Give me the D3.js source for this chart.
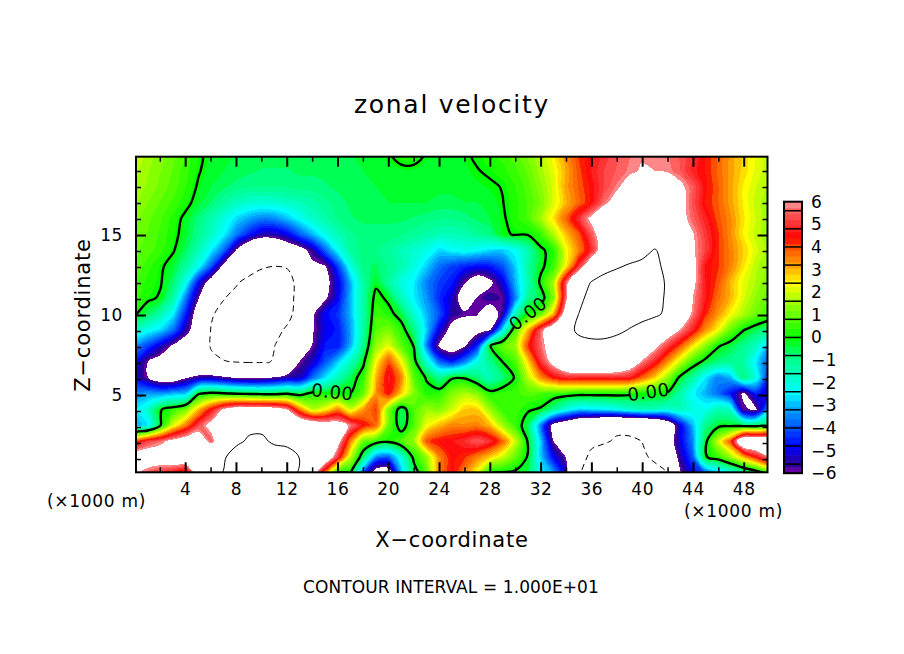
<!DOCTYPE html>
<html>
<head>
<meta charset="utf-8">
<style>
  html, body { margin: 0; padding: 0; background: #fff; }
  text { font-family: "DejaVu Sans", sans-serif; fill: #000; }
  .axis path, .axis line { stroke: #000; }
  .axis text { font-size: 17px; font-family: "DejaVu Sans", sans-serif; letter-spacing: 0.6px; }
</style>
<script src="https://cdn.jsdelivr.net/npm/d3@7"></script>
</head>
<body>
<svg id="chart" width="904" height="654"></svg>
<script>
// tick labels and contour settings
var xMajorTicks = [4, 8, 12, 16, 20, 24, 28, 32, 36, 40, 44, 48];
var xMinorTicks = [2, 6, 10, 14, 18, 22, 26, 30, 34, 38, 42, 46];
var zMajorTicks = [5, 10, 15];
var zMinorTicks = [1, 2, 3, 4, 6, 7, 8, 9, 11, 12, 13, 14, 16, 17, 18, 19];
var barTicks = [6, 5, 4, 3, 2, 1, 0, -1, -2, -3, -4, -5, -6];
var colourValues = [-6, -5.6, -4.8, -4, -3.2, -2.4, -1.6, -0.8, 0, 0.8, 1.6, 2.4, 3.2, 4, 4.4, 5.6, 6];
var colourNames = ["#7b00a5", "#2a0096", "#0000ff", "#0050ff", "#00a0ff", "#00ffff", "#00ffc0", "#00ff80",
  "#00ff00", "#50ff00", "#a0ff00", "#ffff00", "#ffa000", "#ff5000", "#ff0000", "#ff6060", "#ff9a9a"];

// zonal velocity, one list per height (top of plot first)
var z20 = [2.0,1.6,1.3,1.0,0.6,0.1,-0.2,-0.3,-0.4,-0.4,
  -0.5,-0.5,-0.5,-0.5,-0.5,-0.5,-0.4,-0.4,-0.4,-0.3,
  -0.1,0.3,0.3,-0.1,-0.2,-0.2,-0.1,0.1,0.3,0.5,
  0.8,1.2,1.7,2.4,3.3,4.1,4.6,5.0,5.4,5.7,
  5.9,5.9,5.8,5.4,5.0,4.4,3.8,3.2,2.7,2.2,1.8];
var z19 = [1.8,1.5,1.2,0.9,0.5,0.05,-0.3,-0.4,-0.5,-0.6,
  -0.7,-0.7,-0.7,-0.6,-0.6,-0.6,-0.5,-0.5,-0.4,-0.3,
  -0.2,-0.2,-0.2,-0.2,-0.2,-0.2,-0.2,-0.03,0.1,0.3,
  0.6,1.0,1.6,2.2,3.1,4.0,4.7,5.2,5.5,5.8,
  6.1,6.0,5.9,5.5,4.8,4.4,3.8,3.2,2.7,2.2,1.8];
var z18 = [1.7,1.4,1.1,0.8,0.4,-0.1,-0.4,-0.6,-0.8,-0.9,
  -0.9,-0.9,-0.9,-0.8,-0.8,-0.7,-0.6,-0.5,-0.5,-0.4,
  -0.3,-0.3,-0.3,-0.3,-0.3,-0.3,-0.3,-0.2,-0.1,0.03,
  0.4,0.8,1.4,2.1,3.2,3.9,4.5,5.2,5.8,6.6,
  7.2,7.2,7.0,6.3,5.5,4.5,3.9,3.2,2.5,2.0,1.7];
var z17 = [1.5,1.2,0.9,0.6,0.2,-0.3,-0.7,-1.2,-1.6,-1.8,
  -1.9,-1.8,-1.7,-1.5,-1.3,-1.0,-0.8,-0.6,-0.5,-0.5,
  -0.4,-0.4,-0.4,-0.4,-0.5,-0.5,-0.4,-0.4,-0.3,-0.02,
  0.3,0.7,1.2,2.1,3.0,3.8,4.5,5.7,6.6,7.0,
  7.5,7.5,7.3,6.6,5.4,4.4,3.9,3.2,2.5,1.9,1.5];
var z16 = [1.3,1.0,0.7,0.3,-0.2,-0.8,-1.4,-2.0,-2.7,-3.2,
  -3.5,-3.4,-2.9,-2.3,-1.7,-1.3,-0.9,-0.7,-0.6,-0.6,
  -0.6,-0.6,-0.7,-0.8,-0.9,-0.9,-0.8,-0.6,-0.4,-0.1,
  0.3,0.7,1.6,2.6,3.8,5.0,6.3,7.5,8.5,8.5,
  8.7,8.7,8.5,6.5,5.6,4.8,4.0,3.4,2.6,2.0,1.5];
var z15 = [1.1,0.9,0.6,0.2,-0.3,-1.0,-1.7,-2.5,-3.6,-4.6,
  -5.4,-5.4,-4.9,-3.9,-3.0,-2.1,-1.5,-1.0,-0.8,-0.8,
  -0.8,-0.9,-1.1,-1.3,-1.5,-1.5,-1.4,-1.1,-0.9,-0.1,
  0.05,0.05,0.5,1.7,2.9,3.9,5.4,7.0,8.0,8.5,
  9.0,9.0,9.0,8.0,6.1,5.1,4.2,3.4,2.5,1.9,1.5];
var z14 = [1.0,0.8,0.5,0.05,-0.6,-1.5,-2.5,-3.8,-6.2,-8.0,
  -8.5,-8.0,-7.2,-6.6,-5.5,-3.8,-2.3,-1.2,-0.8,-0.9,
  -1.1,-1.5,-1.8,-2.1,-2.7,-2.4,-2.2,-2.4,-2.7,-2.8,
  -2.3,-1.4,-0.15,0.3,2.3,3.5,4.9,7.0,8.5,9.0,
  9.5,10.1,9.5,8.5,6.2,5.2,4.2,3.5,2.8,2.1,1.6];
var z13 = [0.9,0.5,0.1,-0.3,-1.2,-2.3,-4.0,-6.5,-7.5,-8.5,
  -9.8,-10.0,-9.8,-7.5,-6.3,-6.1,-4.2,-2.0,-0.8,-0.6,
  -1.0,-1.4,-2.0,-2.8,-3.7,-4.2,-4.5,-4.7,-4.6,-4.0,
  -2.8,-1.2,-0.2,0.5,2.5,5.0,7.5,9.0,9.8,10.2,
  10.4,10.3,9.7,8.5,6.5,4.6,4.2,3.5,2.6,1.8,1.4];
var z12 = [0.7,0.3,0.05,-0.7,-2.2,-4.8,-6.8,-8.3,-9.7,-11,
  -11,-11,-11,-9.0,-7.5,-6.5,-5.0,-3.0,-1.2,-0.2,
  -1.2,-2.0,-2.5,-3.5,-4.2,-4.6,-5.9,-7.0,-6.3,-5.0,
  -3.0,-1.5,0.2,1.6,5.5,8.5,10.1,11,11,11,
  11,11,9.7,8.0,6.4,4.7,4.0,3.0,2.2,1.7,1.2];
var z11 = [0.5,0.15,-0.1,-1.3,-3.6,-6.0,-8.0,-9.9,-11,-11,
  -11,-11,-11,-9.0,-7.5,-6.2,-4.8,-3.0,-1.2,0.3,
  -0.2,-1.5,-2.5,-3.3,-4.4,-5.2,-7.0,-5.9,-5.4,-5.8,
  -3.5,-1.0,-0.5,1.2,5.7,9.6,10.5,11,11,11,
  11,11,9.6,7.5,6.0,4.7,3.7,3.0,2.1,1.4,1.0];
var z10 = [0.05,-0.6,-1.4,-2.5,-4.6,-7.0,-9.7,-11,-11,-11,
  -11,-11,-11,-8.5,-6.2,-4.8,-4.3,-3.0,-1.3,0.6,
  0.3,-0.4,-1.8,-3.0,-4.0,-5.5,-5.8,-5.95,-7.0,-5.5,
  -1.5,0.2,0.9,3.0,7.0,10.0,11,11,11,11,
  11,10.5,9.5,7.5,5.8,4.3,3.3,2.4,1.7,1.1,0.6];
var z9 = [-1.8,-2.2,-2.7,-3.7,-5.5,-7.0,-10.2,-11,-11,-11,
  -11,-11,-9.5,-8.0,-6.1,-4.9,-4.6,-3.2,-1.2,0.9,
  1.2,0.4,-0.9,-2.8,-5.0,-6.5,-7.0,-6.5,-6.1,-2.5,
  0.8,3.0,5.5,7.5,9.0,10.5,11,11,10.5,9.9,
  9.0,8.0,7.0,6.0,4.8,3.4,2.4,1.0,0.05,-0.5,-1.0];
var z8 = [-3.5,-4.2,-5.2,-6.2,-7.0,-8.5,-10.2,-11,-11,-11,
  -11,-10.0,-8.8,-7.5,-5.9,-4.6,-4.6,-3.0,-1.0,1.5,
  2.2,0.9,-0.05,-3.5,-6.2,-7.0,-6.1,-4.5,-0.05,1.0,
  1.5,4.2,5.6,6.8,8.5,9.0,9.2,9.2,9.0,8.5,
  7.5,6.4,5.2,4.0,2.6,1.4,0.1,-0.4,-1.0,-1.6,-3.0];
var z7 = [-4.8,-6.0,-6.6,-7.5,-8.5,-9.0,-9.5,-9.9,-10.1,-10.2,
  -10.2,-9.9,-8.5,-5.9,-5.2,-4.0,-2.8,-1.6,-0.2,2.4,
  4.0,2.4,0.3,-1.8,-3.8,-4.5,-3.5,-2.0,-1.0,0.02,
  0.7,2.7,5.0,6.5,8.0,8.5,8.5,8.5,8.2,7.2,
  5.9,4.8,3.4,2.0,0.6,-0.3,-0.8,-1.0,-1.2,-2.5,-4.0];
var z6 = [-5.0,-6.0,-7.0,-7.0,-6.1,-5.5,-5.4,-5.8,-6.1,-6.3,
  -6.2,-5.9,-5.4,-5.3,-3.7,-2.6,-1.5,-0.5,0.5,3.0,
  4.8,3.5,0.8,-0.1,-1.0,-0.1,-0.1,-0.8,-1.5,-0.8,
  0.1,1.8,3.4,4.4,4.9,4.9,4.9,4.9,4.9,4.8,
  3.8,2.8,1.5,-0.2,-1.2,-2.5,-3.5,-3.0,-0.8,-2.0,-4.5];
var z5 = [-3.5,-3.2,-3.3,-3.0,-2.8,-0.1,0.3,0.1,-0.1,-0.2,
  -0.3,-0.3,-0.1,-0.4,0.3,0.1,0.1,0.02,1.0,3.3,
  4.5,2.8,1.2,0.3,0.4,1.3,1.7,1.3,0.3,0.5,
  0.6,0.8,0.7,0.5,0.4,0.3,0.3,0.3,0.3,0.2,
  0.1,0.02,-0.1,-1.3,-2.4,-3.0,-3.7,-4.7,-6.2,-4.5,-5.0];
var z4 = [-2.5,-1.8,-0.05,0.5,1.2,3.0,4.6,6.2,7.0,7.0,
  7.0,6.8,6.0,3.5,1.8,2.4,3.5,2.0,3.3,4.2,
  1.2,-0.5,0.8,1.5,1.3,2.0,2.8,2.8,1.5,0.5,
  0.6,0.1,-0.1,-1.0,-2.0,-2.7,-2.6,-2.5,-2.2,-1.8,
  -1.5,-1.6,-1.9,-1.5,-2.0,-2.2,-1.4,-1.7,-5.8,-6.2,-3.0];
var z3 = [-3.2,-2.5,0.05,2.2,3.6,5.3,6.5,8.0,9.0,9.5,
  9.6,9.2,8.5,8.0,7.5,7.0,6.8,5.8,4.5,3.8,
  1.0,-0.5,0.8,2.3,3.0,3.5,3.4,3.5,3.0,1.6,
  0.5,-0.5,-3.5,-6.5,-7.5,-8.5,-9.0,-9.5,-9.8,-9.8,
  -9.5,-9.0,-7.5,-5.0,-3.0,-1.0,-0.3,-0.2,-0.4,-0.5,-0.7];
var z2 = [4.0,5.2,5.7,6.5,7.0,7.0,5.5,8.0,9.6,10.3,
  10.3,9.7,9.4,9.0,8.5,8.0,6.5,3.5,1.0,0.5,
  0.2,0.8,1.5,4.0,4.5,4.6,5.0,5.5,5.0,3.8,
  2.0,-0.1,-2.8,-6.0,-8.0,-9.0,-9.5,-9.9,-10.1,-10.1,
  -10.0,-9.0,-7.0,-5.0,-3.5,-0.3,2.0,4.0,8.0,8.0,8.0];
var z1 = [7,7,7,7.5,8,8.5,9,9.8,11,11,
  11,11,11,9.9,9,7.5,5,1.8,-0.7,-3.5,
  -3.8,-2,0.3,1.5,3.5,4.5,4.2,3.5,2.8,2,
  1,-0.1,-2.8,-4.8,-6,-9,-10.5,-10.5,-10.5,-10.5,
  -10.5,-9.5,-8,-5.5,-4,-0.1,0.5,1.5,3,4.5,5.8];
var z0 = [6.2,5.5,5,4.5,3.8,7.5,9,10.1,11,11,
  11,11,11,9.7,7,3.5,-0.1,0.02,-4,-7,
  -7,-3,-0.5,0.8,3.5,4.5,3.5,2.2,0.02,-0.1,
  -0.2,-0.5,-2.5,-3.2,-5.5,-9.8,-11,-11,-11,-11,
  -11,-11,-10,-6.2,-4.8,-4,-3,-2.2,-1.5,-0.8,-0.05];

// where the 0.00 labels sit on the zero contour: km, km, rotation
var labelX = [15.6, 31, 40.5];
var labelZ = [5.2, 10.1, 5.2];
var labelAngle = [6, -38, -8];

(function zonalChart() {
  var rows = [z20, z19, z18, z17, z16, z15, z14, z13, z12, z11, z10, z9, z8, z7, z6, z5, z4, z3, z2, z1, z0];
  var nx = z20.length, nz = rows.length;
  var values = d3.merge(rows);

  // basic variable for configuration
  var svg = d3.select("#chart"),
    plot = { left: 136, right: 767.5, top: 156.7, bottom: 472.3 },
    barBox = { left: 784, right: 802, top: 201.7, bottom: 473.2 };

  var x = d3.scaleLinear().domain([0.125, 49.875]).range([plot.left, plot.right]);
  var z = d3.scaleLinear().domain([0.17, 19.895]).range([plot.bottom, plot.top]);
  var barScale = d3.scaleLinear().domain([-6, 6]).range([barBox.bottom, barBox.top]);
  var colour = d3.scaleLinear().domain(colourValues).range(colourNames);

  // the grid nodes are about one km apart
  var dx = (49.96 - 0.08) / (nx - 1), dz = (20 - 0.125) / (nz - 1);

  // contour rings drawn as curves so the bands are not polygons
  var ringLine = d3.line()
    .x(function (p) { return x(0.08 + (p[0] - 0.5) * dx); })
    .y(function (p) { return z(20 - (p[1] - 0.5) * dz); })
    .curve(d3.curveCatmullRomClosed.alpha(0.5));
  function path(d) {
    return d.coordinates.map(function (poly) {
      return poly.map(function (ring) { return ringLine(ring.slice(0, -1)); }).join("");
    }).join("");
  }

  var step = 0.8 / 3;
  var levels = d3.range(46).map(function (i) { return -6 + i * step; });
  var contours = d3.contours().size([nx, nz]);

  var defs = svg.append("defs");
  defs.append("clipPath").attr("id", "plot-clip").append("rect")
    .attr("x", plot.left).attr("y", plot.top)
    .attr("width", plot.right - plot.left).attr("height", plot.bottom - plot.top);

  var g = svg.append("g").attr("clip-path", "url(#plot-clip)");

  // filled bands, lowest first, everything over 6 goes back to white
  g.selectAll(".band")
    .data(contours.thresholds(levels)(values))
    .enter().append("path")
    .attr("class", "band")
    .attr("d", path)
    .attr("fill-rule", "evenodd")
    .attr("shape-rendering", "crispEdges")
    .attr("fill", function (d) {
      return d.value > 5.99 ? "#fff" : colour(d.value + step / 2);
    });

  // gaps in the zero line for its labels
  var mask = defs.append("mask").attr("id", "label-gaps").attr("maskUnits", "userSpaceOnUse")
    .attr("x", 0).attr("y", 0).attr("width", 904).attr("height", 654);
  mask.append("rect").attr("width", 904).attr("height", 654).attr("fill", "#fff");
  labelX.forEach(function (k, i) {
    mask.append("rect").attr("x", -19).attr("y", -13).attr("width", 38).attr("height", 26)
      .attr("fill", "#000")
      .attr("transform", "translate(" + x(k) + "," + z(labelZ[i]) + ") rotate(" + labelAngle[i] + ")");
  });

  var lines = contours.thresholds([-10, 0, 10])(values);
  g.append("path").attr("d", path(lines[0])).attr("fill", "none").attr("stroke", "#000")
    .attr("stroke-width", 1).attr("stroke-dasharray", "6,4");
  g.append("g").attr("mask", "url(#label-gaps)").append("path").attr("d", path(lines[1]))
    .attr("fill", "none").attr("stroke", "#000").attr("stroke-width", 2.4);
  g.append("path").attr("d", path(lines[2])).attr("fill", "none").attr("stroke", "#000").attr("stroke-width", 1);

  labelX.forEach(function (k, i) {
    svg.append("text")
      .attr("transform", "translate(" + x(k) + "," + z(labelZ[i]) + ") rotate(" + labelAngle[i] + ")")
      .attr("text-anchor", "middle").attr("dy", "0.36em")
      .attr("font-size", 18).attr("letter-spacing", 0.5)
      .text("0.00");
  });

  // frame and ticks, pointing into the plot
  function addAxis(axis, tx, ty, sw, labels) {
    var a = svg.append("g").attr("class", "axis")
      .attr("transform", "translate(" + tx + "," + ty + ")")
      .call(axis);
    a.selectAll("line").attr("stroke-width", sw);
    a.select(".domain").remove();
    if (!labels) a.selectAll("text").remove();
    return a;
  }
  addAxis(d3.axisBottom(x).tickValues(xMajorTicks).tickSize(-10).tickPadding(11), 0, plot.bottom, 2, true);
  addAxis(d3.axisBottom(x).tickValues(xMinorTicks).tickSize(-5), 0, plot.bottom, 1.5, false);
  addAxis(d3.axisTop(x).tickValues(xMajorTicks).tickSize(-10), 0, plot.top, 2, false);
  addAxis(d3.axisTop(x).tickValues(xMinorTicks).tickSize(-5), 0, plot.top, 1.5, false);
  addAxis(d3.axisLeft(z).tickValues(zMajorTicks).tickSize(-10).tickPadding(13), plot.left, 0, 2, true);
  addAxis(d3.axisLeft(z).tickValues(zMinorTicks).tickSize(-5), plot.left, 0, 1.5, false);
  addAxis(d3.axisRight(z).tickValues(zMajorTicks).tickSize(-10), plot.right, 0, 2, false);
  addAxis(d3.axisRight(z).tickValues(zMinorTicks).tickSize(-5), plot.right, 0, 1.5, false);

  svg.append("rect")
    .attr("x", plot.left).attr("y", plot.top)
    .attr("width", plot.right - plot.left).attr("height", plot.bottom - plot.top)
    .attr("fill", "none").attr("stroke", "#000").attr("stroke-width", 2);

  // colour bar
  svg.selectAll(".bar-shade")
    .data(levels.slice(0, 45))
    .enter().append("rect")
    .attr("class", "bar-shade")
    .attr("x", barBox.left)
    .attr("width", barBox.right - barBox.left)
    .attr("y", function (d) { return barScale(d + step); })
    .attr("height", function (d) { return barScale(d) - barScale(d + step) + 0.5; })
    .attr("fill", function (d) { return colour(d + step / 2); });

  svg.selectAll(".bar-line")
    .data(d3.range(-7, 8).map(function (i) { return i * 0.8; }))
    .enter().append("line")
    .attr("class", "bar-line")
    .attr("x1", barBox.left).attr("x2", barBox.right)
    .attr("y1", function (d) { return barScale(d); })
    .attr("y2", function (d) { return barScale(d); })
    .attr("stroke", "#000").attr("stroke-width", 1.5);

  svg.append("rect")
    .attr("x", barBox.left).attr("y", barBox.top)
    .attr("width", barBox.right - barBox.left).attr("height", barBox.bottom - barBox.top)
    .attr("fill", "none").attr("stroke", "#000").attr("stroke-width", 2);

  var barAxis = svg.append("g").attr("class", "axis")
    .attr("transform", "translate(" + barBox.right + ",0)")
    .call(d3.axisRight(barScale).tickValues(barTicks).tickSize(0).tickPadding(9)
      .tickFormat(function (d) { return d < 0 ? "\u2212" + (-d) : d; }));
  barAxis.select(".domain").remove();

  // insert texts
  svg.append("text").attr("x", 452).attr("y", 113).attr("text-anchor", "middle")
    .attr("font-size", 25).attr("letter-spacing", 1.7).text("zonal velocity");
  svg.append("text").attr("x", 452).attr("y", 547).attr("text-anchor", "middle")
    .attr("font-size", 21).attr("letter-spacing", 0.8).text("X\u2212coordinate");
  svg.append("text").attr("transform", "translate(90,315) rotate(-90)").attr("text-anchor", "middle")
    .attr("font-size", 21).attr("letter-spacing", 0.8).text("Z\u2212coordinate");
  svg.append("text").attr("x", 451).attr("y", 593).attr("text-anchor", "middle")
    .attr("font-size", 17).attr("letter-spacing", 0.1).text("CONTOUR INTERVAL = 1.000E+01");
  svg.append("text").attr("x", 47).attr("y", 507).attr("font-size", 17).attr("letter-spacing", 0.7).text("(\u00d71000 m)");
  svg.append("text").attr("x", 684).attr("y", 517).attr("font-size", 17).attr("letter-spacing", 0.7).text("(\u00d71000 m)");
})();
</script>
</body>
</html>
